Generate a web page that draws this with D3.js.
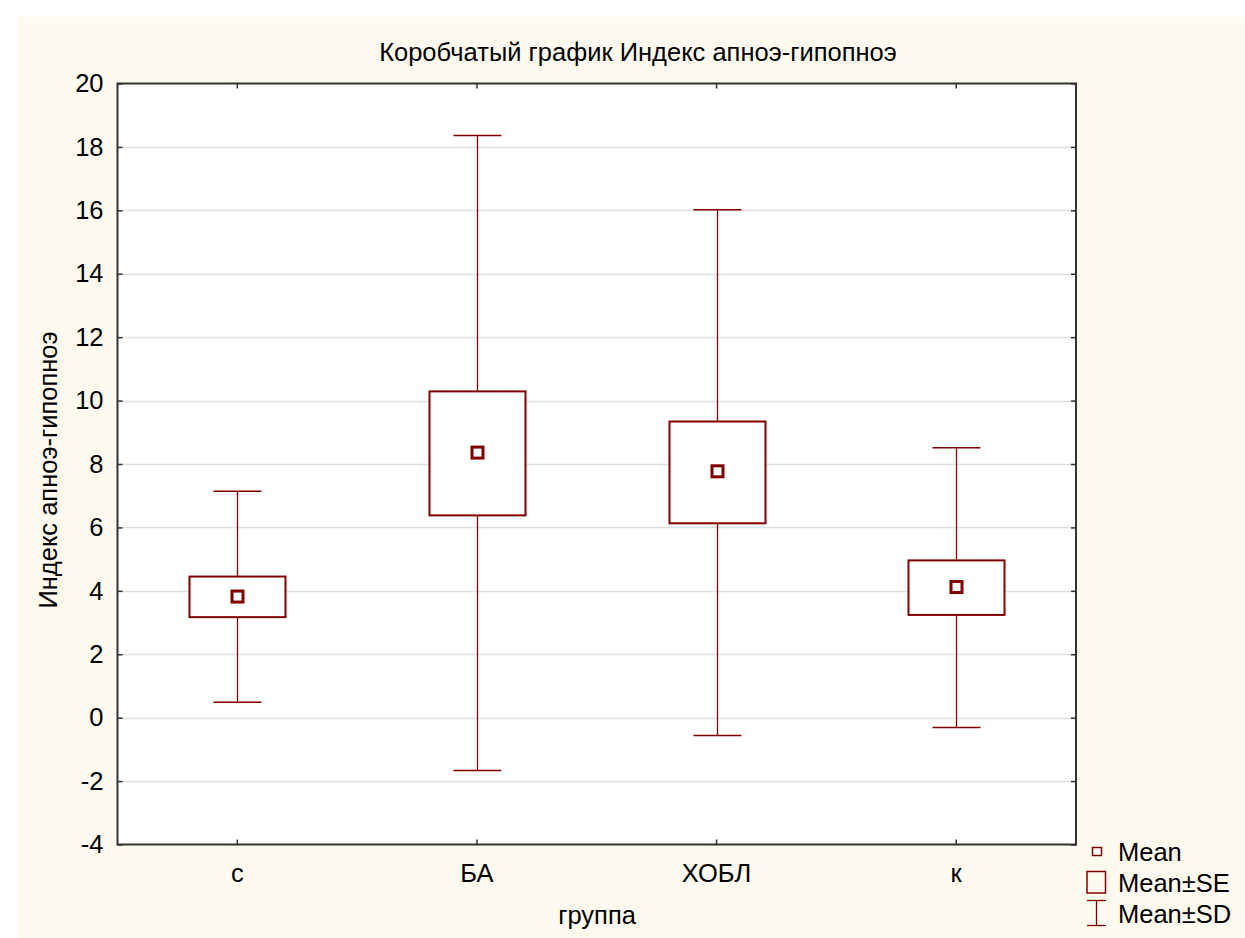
<!DOCTYPE html>
<html>
<head>
<meta charset="utf-8">
<script src="https://cdn.jsdelivr.net/npm/d3@7"></script>
<style>
  html, body { margin: 0; padding: 0; background: #ffffff; }
  svg { display: block; font-family: "Liberation Sans", Arial, sans-serif; }
</style>
</head>
<body>
<svg id="chart" width="1245" height="938"></svg>
<script>
// Group labels and summary statistics of the apnea-hypopnea index
const groups = ["с", "БА", "ХОБЛ", "к"];
const means  = [3.82, 8.36, 7.77, 4.12];
const seLow  = [3.17, 6.38, 6.13, 3.24];
const seHigh = [4.45, 10.29, 9.34, 4.96];
const sdLow  = [0.49, -1.67, -0.56, -0.31];
const sdHigh = [7.14, 18.36, 16.02, 8.51];
const yTicks = [-4, -2, 0, 2, 4, 6, 8, 10, 12, 14, 16, 18, 20];

const title = "Коробчатый график Индекс апноэ-гипопноэ";
const xTitle = "группа";
const yTitle = "Индекс апноэ-гипопноэ";

const dark = "#800000";
const fontSize = 25.5;
const svg = d3.select("#chart");

// Panel background
svg.append("rect").attr("x", 18).attr("y", 17)
  .attr("width", 1245 - 18).attr("height", 938 - 17).attr("fill", "#fffaf0");

const m = { left: 117.5, right: 1076, top: 83.5, bottom: 844.5 };

const x = d3.scaleBand().domain(groups).range([m.left, m.right]).paddingInner(0).paddingOuter(0);
const y = d3.scaleLinear().domain([-4, 20]).range([m.bottom, m.top]);

// Plot area
svg.append("rect").attr("x", m.left).attr("y", m.top)
  .attr("width", m.right - m.left).attr("height", m.bottom - m.top).attr("fill", "#ffffff");

// Horizontal grid lines
svg.append("g").selectAll("line").data(yTicks.filter(t => t > -4 && t < 20)).join("line")
  .attr("x1", m.left).attr("x2", m.right)
  .attr("y1", d => Math.round(y(d)) + 0.5).attr("y2", d => Math.round(y(d)) + 0.5)
  .attr("stroke", "#dedede").attr("stroke-width", 1.5);

// Axes with inward ticks
const tickLen = 5;
const axLeft = svg.append("g").attr("transform", `translate(${m.left},0)`)
  .call(d3.axisLeft(y).tickValues(yTicks).tickSize(-tickLen).tickPadding(14).tickFormat(d3.format("d")));
axLeft.selectAll("text").attr("font-size", fontSize).attr("fill", "#000")
  .attr("font-family", "Liberation Sans, Arial, sans-serif").text(d => d < 0 ? "-" + Math.abs(d) : d);
const axRight = svg.append("g").attr("transform", `translate(${m.right},0)`)
  .call(d3.axisRight(y).tickValues(yTicks).tickSize(-tickLen).tickFormat(""));
const axBottom = svg.append("g").attr("transform", `translate(0,${m.bottom})`)
  .call(d3.axisBottom(x).tickSize(-tickLen).tickPadding(19));
axBottom.selectAll("text").attr("font-size", fontSize).attr("fill", "#000")
  .attr("font-family", "Liberation Sans, Arial, sans-serif");
const axTop = svg.append("g").attr("transform", `translate(0,${m.top})`)
  .call(d3.axisTop(x).tickSize(-tickLen).tickFormat(""));
[axLeft, axRight, axBottom, axTop].forEach(g => {
  g.select(".domain").remove();
  g.selectAll(".tick line").attr("stroke", "#333").attr("stroke-width", 1.5);
});

// Plot frame
svg.append("rect").attr("x", m.left).attr("y", m.top)
  .attr("width", m.right - m.left).attr("height", m.bottom - m.top)
  .attr("fill", "none").attr("stroke", "#333").attr("stroke-width", 2);

// Box plots: whiskers = mean ± SD, box = mean ± SE, marker = mean
const boxW = 96, capW = 48, markS = 11;
const marks = svg.append("g");
groups.forEach((grp, i) => {
  const cx = Math.round(x(grp) + x.bandwidth() / 2) + 0.5;
  marks.append("line").attr("x1", cx).attr("x2", cx)
    .attr("y1", y(sdHigh[i])).attr("y2", y(seHigh[i]))
    .attr("stroke", dark).attr("stroke-width", 1.3);
  marks.append("line").attr("x1", cx).attr("x2", cx)
    .attr("y1", y(seLow[i])).attr("y2", y(sdLow[i]))
    .attr("stroke", dark).attr("stroke-width", 1.3);
  [sdHigh[i], sdLow[i]].forEach(v => {
    marks.append("line").attr("x1", cx - capW / 2).attr("x2", cx + capW / 2)
      .attr("y1", y(v)).attr("y2", y(v))
      .attr("stroke", dark).attr("stroke-width", 1.5);
  });
  marks.append("rect").attr("x", cx - boxW / 2).attr("y", y(seHigh[i]))
    .attr("width", boxW).attr("height", y(seLow[i]) - y(seHigh[i]))
    .attr("fill", "#ffffff").attr("stroke", dark).attr("stroke-width", 2);
  marks.append("rect").attr("x", cx - markS / 2).attr("y", y(means[i]) - markS / 2)
    .attr("width", markS).attr("height", markS)
    .attr("fill", "#ffffff").attr("stroke", dark).attr("stroke-width", 3);
});

// Titles
svg.append("text").attr("x", 638).attr("y", 61).attr("text-anchor", "middle")
  .attr("font-size", fontSize).attr("fill", "#000").text(title);
svg.append("text").attr("x", 597).attr("y", 924).attr("text-anchor", "middle")
  .attr("font-size", fontSize).attr("fill", "#000").text(xTitle);
svg.append("text").attr("transform", "translate(57,470) rotate(-90)").attr("text-anchor", "middle")
  .attr("font-size", fontSize).attr("fill", "#000").text(yTitle);

// Legend
const lg = svg.append("g");
lg.append("rect").attr("x", 1092.5).attr("y", 847.5).attr("width", 9).attr("height", 8)
  .attr("fill", "#fff").attr("stroke", dark).attr("stroke-width", 1.5);
lg.append("rect").attr("x", 1087).attr("y", 871.5).attr("width", 18.5).attr("height", 21.5)
  .attr("fill", "none").attr("stroke", dark).attr("stroke-width", 1.5);
lg.append("line").attr("x1", 1087).attr("x2", 1106).attr("y1", 900.5).attr("y2", 900.5).attr("stroke", dark).attr("stroke-width", 1.3);
lg.append("line").attr("x1", 1087).attr("x2", 1106).attr("y1", 925.5).attr("y2", 925.5).attr("stroke", dark).attr("stroke-width", 1.3);
lg.append("line").attr("x1", 1096.5).attr("x2", 1096.5).attr("y1", 900.5).attr("y2", 925.5).attr("stroke", dark).attr("stroke-width", 1.3);
const legendLabels = ["Mean", "Mean±SE", "Mean±SD"];
lg.selectAll("text").data(legendLabels).join("text")
  .attr("x", 1118).attr("y", (d, i) => 861 + i * 31)
  .attr("font-size", fontSize).attr("fill", "#000").text(d => d);
</script>
</body>
</html>
